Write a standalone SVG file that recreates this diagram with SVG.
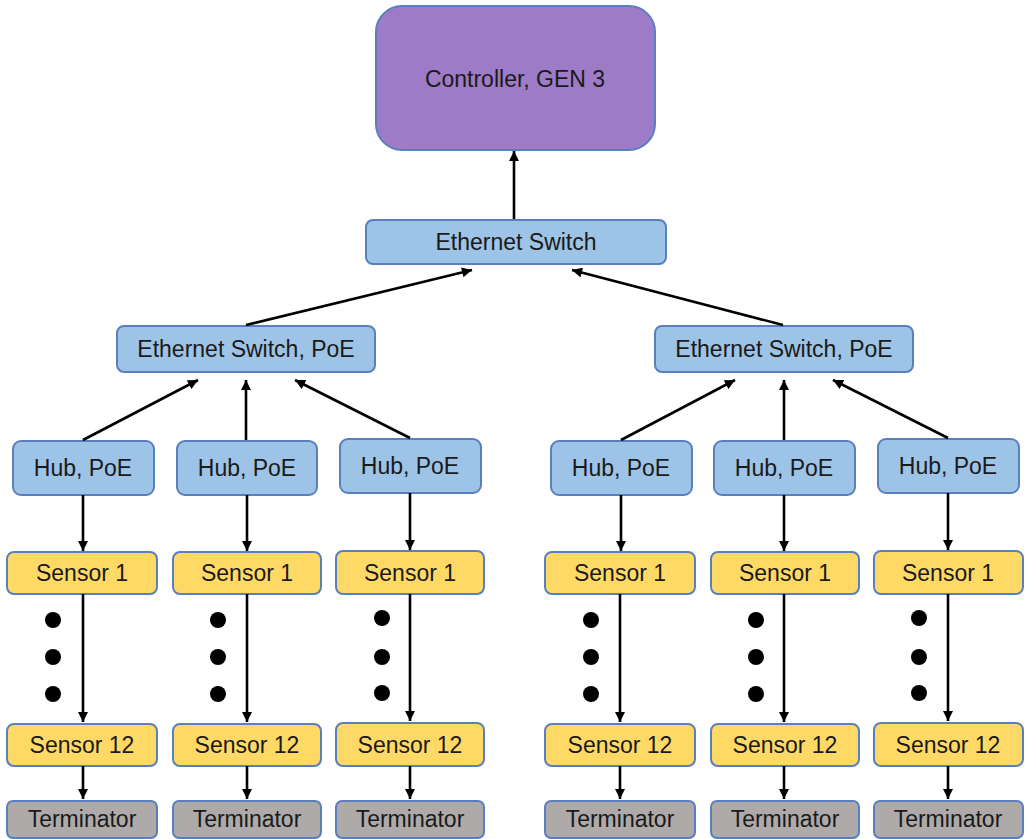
<svg xmlns="http://www.w3.org/2000/svg" width="1026" height="839" viewBox="0 0 1026 839">
<defs>
<marker id="ah" viewBox="0 0 10 10" refX="10" refY="5" markerWidth="11" markerHeight="10" markerUnits="userSpaceOnUse" orient="auto">
<path d="M0,0 L10,5 L0,10 z" fill="#000"/>
</marker>
<style>
.n{stroke:#5A7FBE;stroke-width:2}
.ctl{fill:#9E7BC6}
.blue{fill:#9DC3E6}
.yel{fill:#FFD966}
.gray{fill:#AEAAAA}
text{font-family:"Liberation Sans",Arial,sans-serif;font-size:23px;fill:#1a1a1a;text-anchor:middle}
.c line{stroke:#000;stroke-width:2.6;marker-end:url(#ah)}
.dot{fill:#000}
</style>
</defs>
<rect width="1026" height="839" fill="#fff"/>

<g id="controller"><rect class="n ctl" x="376" y="6" width="279" height="144" rx="26"/><text x="515" y="87">Controller, GEN 3</text></g>
<g id="switch-top"><rect class="n blue" x="366" y="220" width="300" height="44" rx="7"/><text x="516" y="250">Ethernet Switch</text></g>
<g id="switch-poe-left"><rect class="n blue" x="117" y="326" width="258" height="46" rx="7"/><text x="246" y="357">Ethernet Switch, PoE</text></g>
<g id="switch-poe-right"><rect class="n blue" x="655" y="326" width="258" height="46" rx="7"/><text x="784" y="357">Ethernet Switch, PoE</text></g>

<g id="hub1"><rect class="n blue" x="13" y="441" width="141" height="54" rx="8"/><text x="83" y="476">Hub, PoE</text></g>
<g id="hub2"><rect class="n blue" x="177" y="441" width="140" height="54" rx="8"/><text x="247" y="476">Hub, PoE</text></g>
<g id="hub3"><rect class="n blue" x="340" y="439" width="141" height="54" rx="8"/><text x="410" y="474">Hub, PoE</text></g>
<g id="hub4"><rect class="n blue" x="551" y="441" width="141" height="54" rx="8"/><text x="621" y="476">Hub, PoE</text></g>
<g id="hub5"><rect class="n blue" x="714" y="441" width="141" height="54" rx="8"/><text x="784" y="476">Hub, PoE</text></g>
<g id="hub6"><rect class="n blue" x="878" y="439" width="141" height="54" rx="8"/><text x="948" y="474">Hub, PoE</text></g>

<g id="s1a"><rect class="n yel" x="7" y="552" width="150" height="42" rx="7"/><text x="82" y="581">Sensor 1</text></g>
<g id="s1b"><rect class="n yel" x="173" y="552" width="148" height="42" rx="7"/><text x="247" y="581">Sensor 1</text></g>
<g id="s1c"><rect class="n yel" x="336" y="551" width="148" height="43" rx="7"/><text x="410" y="581">Sensor 1</text></g>
<g id="s1d"><rect class="n yel" x="545" y="552" width="150" height="42" rx="7"/><text x="620" y="581">Sensor 1</text></g>
<g id="s1e"><rect class="n yel" x="711" y="552" width="148" height="42" rx="7"/><text x="785" y="581">Sensor 1</text></g>
<g id="s1f"><rect class="n yel" x="874" y="551" width="149" height="43" rx="7"/><text x="948" y="581">Sensor 1</text></g>

<g id="s12a"><rect class="n yel" x="7" y="724" width="150" height="42" rx="7"/><text x="82" y="753">Sensor 12</text></g>
<g id="s12b"><rect class="n yel" x="173" y="724" width="148" height="42" rx="7"/><text x="247" y="753">Sensor 12</text></g>
<g id="s12c"><rect class="n yel" x="336" y="723" width="148" height="43" rx="7"/><text x="410" y="753">Sensor 12</text></g>
<g id="s12d"><rect class="n yel" x="545" y="724" width="150" height="42" rx="7"/><text x="620" y="753">Sensor 12</text></g>
<g id="s12e"><rect class="n yel" x="711" y="724" width="148" height="42" rx="7"/><text x="785" y="753">Sensor 12</text></g>
<g id="s12f"><rect class="n yel" x="874" y="723" width="149" height="43" rx="7"/><text x="948" y="753">Sensor 12</text></g>

<g id="ta"><rect class="n gray" x="7" y="801" width="150" height="37" rx="6"/><text x="82" y="827">Terminator</text></g>
<g id="tb"><rect class="n gray" x="173" y="801" width="148" height="37" rx="6"/><text x="247" y="827">Terminator</text></g>
<g id="tc"><rect class="n gray" x="336" y="801" width="148" height="37" rx="6"/><text x="410" y="827">Terminator</text></g>
<g id="td"><rect class="n gray" x="545" y="801" width="150" height="37" rx="6"/><text x="620" y="827">Terminator</text></g>
<g id="te"><rect class="n gray" x="711" y="801" width="148" height="37" rx="6"/><text x="785" y="827">Terminator</text></g>
<g id="tf"><rect class="n gray" x="874" y="801" width="149" height="37" rx="6"/><text x="948" y="827">Terminator</text></g>

<g id="dots">
<circle class="dot" cx="53" cy="620" r="8"/><circle class="dot" cx="53" cy="657" r="8"/><circle class="dot" cx="53" cy="694" r="8"/>
<circle class="dot" cx="218" cy="620" r="8"/><circle class="dot" cx="218" cy="657" r="8"/><circle class="dot" cx="218" cy="694" r="8"/>
<circle class="dot" cx="382" cy="618" r="8"/><circle class="dot" cx="382" cy="657" r="8"/><circle class="dot" cx="382" cy="693" r="8"/>
<circle class="dot" cx="591" cy="620" r="8"/><circle class="dot" cx="591" cy="657" r="8"/><circle class="dot" cx="591" cy="694" r="8"/>
<circle class="dot" cx="756" cy="620" r="8"/><circle class="dot" cx="756" cy="657" r="8"/><circle class="dot" cx="756" cy="694" r="8"/>
<circle class="dot" cx="919" cy="618" r="8"/><circle class="dot" cx="919" cy="657" r="8"/><circle class="dot" cx="919" cy="693" r="8"/>
</g>

<g id="connectors" class="c">
<line x1="514" y1="219" x2="514" y2="151"/>
<line x1="246" y1="325" x2="472" y2="270"/>
<line x1="783" y1="325" x2="572" y2="270"/>
<line x1="83" y1="440" x2="198" y2="380"/>
<line x1="246" y1="440" x2="246" y2="380"/>
<line x1="410" y1="438" x2="295" y2="380"/>
<line x1="621" y1="440" x2="735" y2="380"/>
<line x1="784" y1="440" x2="784" y2="380"/>
<line x1="948" y1="438" x2="833" y2="380"/>
<line x1="83" y1="495" x2="83" y2="551"/>
<line x1="247" y1="495" x2="247" y2="551"/>
<line x1="410" y1="493" x2="410" y2="550"/>
<line x1="621" y1="495" x2="621" y2="551"/>
<line x1="784" y1="495" x2="784" y2="551"/>
<line x1="948" y1="493" x2="948" y2="550"/>
<line x1="83" y1="594" x2="83" y2="722"/>
<line x1="247" y1="594" x2="247" y2="722"/>
<line x1="410" y1="594" x2="410" y2="721"/>
<line x1="620" y1="594" x2="620" y2="722"/>
<line x1="784" y1="594" x2="784" y2="722"/>
<line x1="948" y1="594" x2="948" y2="721"/>
<line x1="83" y1="766" x2="83" y2="799"/>
<line x1="247" y1="766" x2="247" y2="799"/>
<line x1="410" y1="766" x2="410" y2="799"/>
<line x1="620" y1="766" x2="620" y2="799"/>
<line x1="784" y1="766" x2="784" y2="799"/>
<line x1="948" y1="766" x2="948" y2="799"/>
</g>
</svg>
